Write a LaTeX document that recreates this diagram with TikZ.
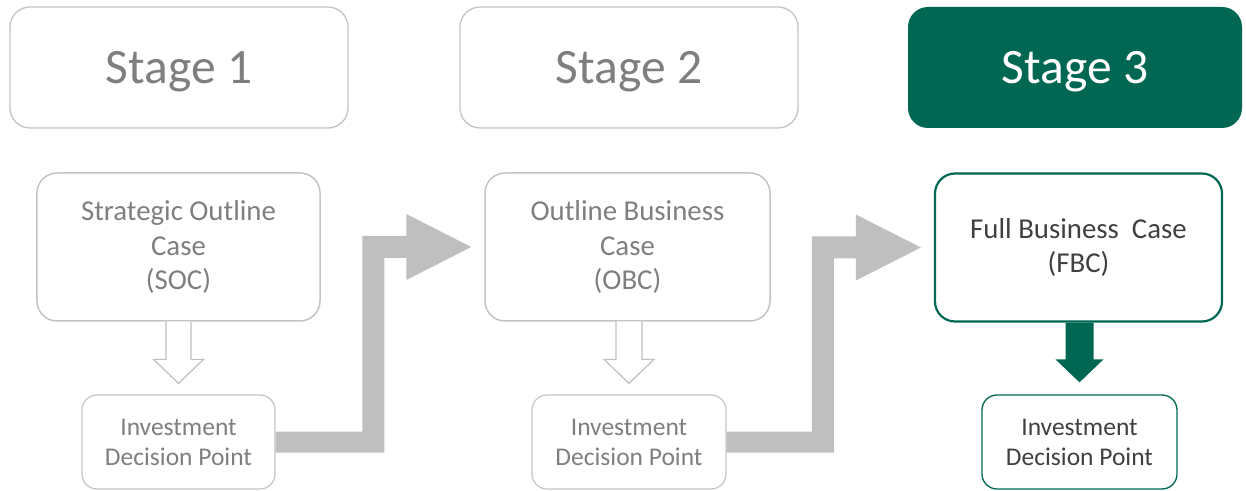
\documentclass[tikz,border=0pt]{standalone}
\usepackage{fontspec}
\setmainfont{Carlito}
\usetikzlibrary{calc}
\definecolor{boxgray}{RGB}{196,196,196}
\definecolor{txtgray}{RGB}{127,127,127}
\definecolor{arrgray}{RGB}{191,191,191}
\definecolor{dkgreen}{RGB}{0,104,82}
\definecolor{txtdark}{RGB}{64,64,64}
\begin{document}
\begin{tikzpicture}[x=1bp,y=-1bp,
  stagebox/.style={rounded corners=20bp, minimum width=338bp, minimum height=121bp,
    inner sep=0pt, font=\fontsize{49.5bp}{59bp}\selectfont, text height=32bp, text depth=0pt},
  greystage/.style={stagebox, draw=boxgray, line width=1.3bp, fill=white, text=txtgray},
  greenstage/.style={stagebox, fill=dkgreen, text=white},
  casebox/.style={rounded corners=20bp, minimum height=148bp, inner sep=0pt, align=center,
    font=\fontsize{28.8bp}{34bp}\selectfont},
  greycase/.style={casebox, draw=boxgray, line width=1.5bp, fill=white, text=txtgray},
  greencase/.style={casebox, draw=dkgreen, line width=2.2bp, fill=white, text=txtdark},
  decbox/.style={rounded corners=15bp, minimum width=194bp, minimum height=94bp, inner sep=0pt,
    align=center, font=\fontsize{25.5bp}{30bp}\selectfont},
  greydec/.style={decbox, draw=boxgray, line width=1.2bp, fill=white, text=txtgray},
  greendec/.style={decbox, draw=dkgreen, line width=1.3bp, fill=white, text=txtdark},
  hollowarrow/.style={draw=arrgray, line width=1.2bp, fill=white, line join=miter},
  elbowarrow/.style={fill=arrgray},
  greenarrow/.style={fill=dkgreen}
]
\useasboundingbox (0,0) rectangle (1246,491);

% stage headers
\node[greystage] (s1) at (179,67.5) {Stage 1};
\node[greystage] (s2) at (629,67.5) {Stage 2};
\node[greenstage, minimum width=334bp] (s3) at (1075,67.5) {Stage 3};

% business case boxes
\node[greycase, minimum width=283bp] (soc) at (178.5,247) {Strategic Outline\\Case\\(SOC)};
\node[greycase, minimum width=285bp] (obc) at (627.5,247) {Outline Business\\Case\\(OBC)};
\node[greencase, minimum width=287bp] (fbc) at (1078.5,247.5) {Full Business~ Case\\(FBC)};

% decision points
\node[greydec, minimum width=193bp] (inv1) at (178.5,442) {Investment\\Decision Point};
\node[greydec] (inv2) at (629,442) {Investment\\Decision Point};
\node[greendec, minimum width=195bp] (inv3) at (1079.5,442) {Investment\\Decision Point};

% hollow down arrows (vertical, aligned on the decision box)
\coordinate (h1t) at ($(inv1.north)+(0,-11)$);
\coordinate (h1s) at (h1t |- soc.south);
\draw[hollowarrow] ($(h1s)+(-12.5,0)$) -- ($(h1t)+(-12.5,-24)$) -- ($(h1t)+(-25,-24)$)
  -- (h1t) -- ($(h1t)+(25,-24)$) -- ($(h1t)+(12.5,-24)$) -- ($(h1s)+(12.5,0)$);
\coordinate (h2t) at ($(inv2.north)+(0,-11)$);
\coordinate (h2s) at (h2t |- obc.south);
\draw[hollowarrow] ($(h2s)+(-13,0)$) -- ($(h2t)+(-13,-24)$) -- ($(h2t)+(-25,-24)$)
  -- (h2t) -- ($(h2t)+(25,-24)$) -- ($(h2t)+(13,-24)$) -- ($(h2s)+(13,0)$);

% solid green down arrow
\coordinate (g3t) at ($(inv3.north)+(0,-12)$);
\coordinate (g3s) at (g3t |- fbc.south);
\fill[greenarrow] ($(g3s)+(-14,0)$) -- ($(g3t)+(-14,-23)$) -- ($(g3t)+(-24,-23)$)
  -- (g3t) -- ($(g3t)+(24,-23)$) -- ($(g3t)+(14,-23)$) -- ($(g3s)+(14,0)$) -- cycle;

% elbow arrows between stages
\coordinate (e1s) at (inv1.east);
\coordinate (e1t) at ($(obc.west)+(-13,0)$);
\coordinate (e1v) at ($(e1t)+(-98,0)$);
\fill[elbowarrow] ($(e1s)+(0,-10.5)$) -- ($(e1v |- e1s)+(-11,-10.5)$) -- ($(e1v)+(-11,-11)$)
  -- ($(e1t)+(-65,-11)$) -- ($(e1t)+(-65,-33)$) -- (e1t) -- ($(e1t)+(-65,33)$)
  -- ($(e1t)+(-65,11)$) -- ($(e1v)+(11,11)$) -- ($(e1v |- e1s)+(11,10.5)$)
  -- ($(e1s)+(0,10.5)$) -- cycle;

\coordinate (e2s) at (inv2.east);
\coordinate (e2t) at ($(fbc.west)+(-13,0)$);
\coordinate (e2v) at ($(e2t)+(-98,0)$);
\fill[elbowarrow] ($(e2s)+(0,-10.5)$) -- ($(e2v |- e2s)+(-11,-10.5)$) -- ($(e2v)+(-11,-11)$)
  -- ($(e2t)+(-65,-11)$) -- ($(e2t)+(-65,-33)$) -- (e2t) -- ($(e2t)+(-65,33)$)
  -- ($(e2t)+(-65,11)$) -- ($(e2v)+(11,11)$) -- ($(e2v |- e2s)+(11,10.5)$)
  -- ($(e2s)+(0,10.5)$) -- cycle;
\end{tikzpicture}
\end{document}
